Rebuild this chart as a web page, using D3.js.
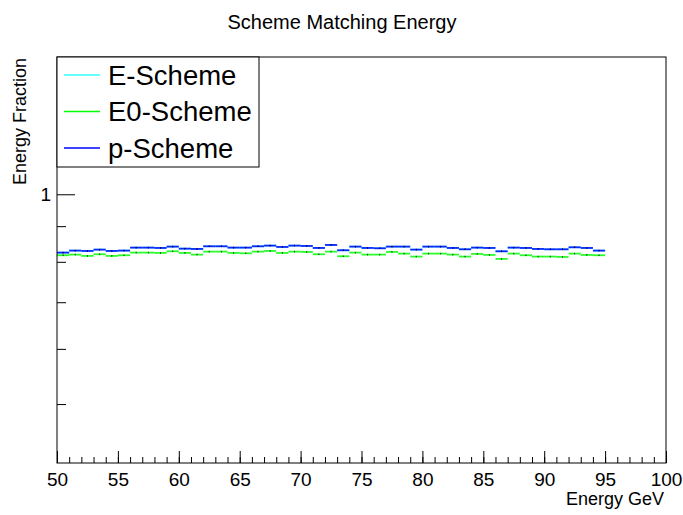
<!DOCTYPE html>
<html lang="en">
<head>
<meta charset="UTF-8">
<title>Scheme Matching Energy</title>
<script src="https://d3js.org/d3.v7.min.js"></script>
<style>
  body { margin: 0; background: #fff; }
  svg text { font-family: "Liberation Sans", Arial, sans-serif; }
</style>
</head>
<body>
<div id="chart"></div>
<script>
// bins: 1 GeV wide, lower edges 50..94
const binEdges = d3.range(50, 95);
const binWidth = 1;

// energy fraction per bin
const pScheme = [0.8247, 0.8302, 0.8292, 0.8329, 0.8292, 0.8302, 0.8384, 0.8384, 0.8375, 0.8412,
                 0.8356, 0.8347, 0.8421, 0.8421, 0.8384, 0.8384, 0.8421, 0.8440, 0.8403, 0.8440,
                 0.8430, 0.8375, 0.8458, 0.8311, 0.8412, 0.8375, 0.8366, 0.8412, 0.8412, 0.8329,
                 0.8412, 0.8412, 0.8375, 0.8338, 0.8384, 0.8375, 0.8283, 0.8384, 0.8375, 0.8347,
                 0.8338, 0.8338, 0.8393, 0.8375, 0.8302];
const e0Scheme = [0.8175, 0.8193, 0.8157, 0.8202, 0.8157, 0.8175, 0.8247, 0.8247, 0.8238, 0.8283,
                  0.8238, 0.8193, 0.8274, 0.8274, 0.8238, 0.8229, 0.8274, 0.8292, 0.8238, 0.8274,
                  0.8265, 0.8202, 0.8274, 0.8148, 0.8247, 0.8193, 0.8193, 0.8265, 0.8220, 0.8139,
                  0.8220, 0.8220, 0.8193, 0.8139, 0.8211, 0.8184, 0.8077, 0.8220, 0.8175, 0.8139,
                  0.8139, 0.8130, 0.8220, 0.8184, 0.8175];
// E-scheme sits under the p-scheme curve
const eScheme = pScheme.slice();
const binError = 0.002;

const seriesNames = ["E-Scheme", "E0-Scheme", "p-Scheme"];
const seriesColors = ["#33ffff", "#00ff00", "#0000ff"];
const seriesValues = [eScheme, e0Scheme, pScheme];

const xMajor = d3.range(50, 101, 5);
const xMinor = d3.range(50, 101, 1);
const yMajor = [1];
const yMinor = [0.5, 0.6, 0.7, 0.8, 0.9];

const width = 683, height = 515;
const margin = { top: 57, right: 17, bottom: 52, left: 57 };
const font = "'Liberation Sans', Arial, sans-serif";

const svg = d3.select("#chart").append("svg")
    .attr("width", width)
    .attr("height", height);

const x = d3.scaleLinear().domain([50, 100]).range([margin.left, width - margin.right]);
const y = d3.scaleLog().domain([0.4115, 1.574]).range([height - margin.bottom, margin.top]);

// title
svg.append("text")
    .attr("x", 342).attr("y", 29)
    .attr("text-anchor", "middle")
    .attr("font-size", 20)
    .text("Scheme Matching Energy");

// histograms
seriesValues.forEach((vals, i) => {
  const g = svg.append("g");
  g.selectAll("line.bar")
    .data(vals)
    .join("line")
    .attr("class", "bar")
    .attr("x1", (d, j) => x(binEdges[j]))
    .attr("x2", (d, j) => x(binEdges[j] + binWidth))
    .attr("y1", d => y(d))
    .attr("y2", d => y(d))
    .attr("stroke", seriesColors[i])
    .attr("stroke-opacity", 0.85)
    .attr("stroke-width", 1.8);
  g.selectAll("line.err")
    .data(vals)
    .join("line")
    .attr("class", "err")
    .attr("x1", (d, j) => x(binEdges[j] + binWidth / 2))
    .attr("x2", (d, j) => x(binEdges[j] + binWidth / 2))
    .attr("y1", d => y(d - binError))
    .attr("y2", d => y(d + binError))
    .attr("stroke", "#000")
    .attr("stroke-opacity", 0.8)
    .attr("stroke-width", 1);
});

// axes
const xAxisY = height - margin.bottom;
svg.append("g")
    .attr("transform", `translate(0,${xAxisY})`)
    .call(d3.axisBottom(x).tickValues(xMinor).tickSize(-6).tickFormat(""))
    .call(g => g.select(".domain").remove());
const xAx = svg.append("g")
    .attr("transform", `translate(0,${xAxisY})`)
    .call(d3.axisBottom(x).tickValues(xMajor).tickSize(-12).tickPadding(7).tickFormat(d3.format("d")))
    .call(g => g.select(".domain").remove());
xAx.attr("font-family", font);
xAx.selectAll("text").attr("font-size", 19).attr("fill", "#000").attr("dy", "0.85em");

svg.append("g")
    .attr("transform", `translate(${margin.left},0)`)
    .call(d3.axisLeft(y).tickValues(yMinor).tickSize(-9).tickFormat(""))
    .call(g => g.select(".domain").remove());
const yAx = svg.append("g")
    .attr("transform", `translate(${margin.left},0)`)
    .call(d3.axisLeft(y).tickValues(yMajor).tickSize(-18).tickPadding(6).tickFormat(d3.format("d")))
    .call(g => g.select(".domain").remove());
yAx.attr("font-family", font);
yAx.selectAll("text").attr("font-size", 19).attr("fill", "#000");

svg.selectAll(".tick line").attr("stroke", "#000");

// frame
svg.append("rect")
    .attr("x", margin.left).attr("y", margin.top)
    .attr("width", width - margin.left - margin.right)
    .attr("height", height - margin.top - margin.bottom)
    .attr("fill", "none")
    .attr("stroke", "#000");

// axis titles
svg.append("text")
    .attr("x", width - margin.right - 2).attr("y", 505)
    .attr("text-anchor", "end")
    .attr("font-size", 18)
    .text("Energy GeV");
svg.append("text")
    .attr("transform", `translate(26,${margin.top + 1}) rotate(-90)`)
    .attr("text-anchor", "end")
    .attr("font-size", 18)
    .text("Energy Fraction");

// legend
const legend = svg.append("g");
legend.append("rect")
    .attr("x", 57).attr("y", 57)
    .attr("width", 202).attr("height", 110)
    .attr("fill", "#fff")
    .attr("stroke", "#000");
const rowY = d3.scalePoint().domain(seriesNames).range([75, 148]);
seriesNames.forEach((name, i) => {
  legend.append("line")
      .attr("x1", 64).attr("x2", 100)
      .attr("y1", rowY(name)).attr("y2", rowY(name))
      .attr("stroke", seriesColors[i]).attr("stroke-width", 1.5);
  legend.append("text")
      .attr("x", 108).attr("y", rowY(name))
      .attr("dy", "0.36em")
      .attr("font-size", 27.5)
      .text(name);
});
</script>
</body>
</html>
